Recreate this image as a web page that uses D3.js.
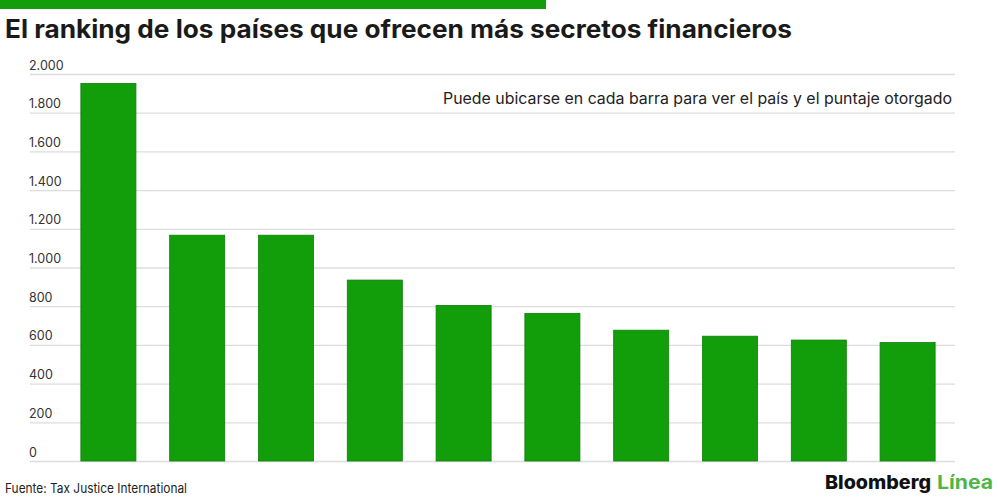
<!DOCTYPE html>
<html>
<head>
<meta charset="utf-8">
<script src="https://cdn.jsdelivr.net/npm/d3@7"></script>
<style>
  body { margin: 0; background: #fff; }
  svg { display: block; font-family: "Inter", "Liberation Sans", sans-serif; }
</style>
</head>
<body>
<script>
// Financial Secrecy Index, top 10 (puntaje)
const countries = [
  "Estados Unidos", "Suiza", "Singapur", "Hong Kong", "Luxemburgo",
  "Japón", "Alemania", "Emiratos Árabes Unidos", "Islas Vírgenes Británicas", "Guernsey"
];
const scores = [1951, 1167, 1167, 935, 804, 763, 676, 645, 625, 612];
const yTicks = [0, 200, 400, 600, 800, 1000, 1200, 1400, 1600, 1800, 2000];

const width = 1000, height = 500;
const green = "#129e0b";

const svg = d3
  .select("body")
  .append("svg")
  .attr("width", width)
  .attr("height", height);

// top stripe
svg.append("rect")
  .attr("x", 0).attr("y", 0)
  .attr("width", 546).attr("height", 9)
  .style("fill", green);

// title
svg.append("text")
  .attr("x", 5).attr("y", 38)
  .attr("textLength", 787).attr("lengthAdjust", "spacingAndGlyphs")
  .style("font-size", "25px").style("font-weight", "700").style("fill", "#1a1a1a")
  .text("El ranking de los países que ofrecen más secretos financieros");

const x = d3.scaleBand()
  .domain(countries)
  .range([64, 952])
  .paddingInner(0.38)
  .paddingOuter(0.19);

const y = d3.scaleLinear().domain([0, 2000]).range([461, 74]);

// grid + labels
const yAxis = d3.axisLeft(y)
  .tickValues(yTicks)
  .tickSize(-925)
  .tickFormat((d) => d3.format(",")(d).replace(/,/g, "."));

const gy = svg.append("g")
  .attr("transform", "translate(955, 0)")
  .call(yAxis);
gy.select(".domain").remove();
gy.selectAll(".tick line").style("stroke", "#dcdcdc").style("stroke-width", 1.3)
  .attr("x1", -925).attr("x2", 0);
gy.selectAll(".tick text")
  .attr("x", -926).attr("dy", -5)
  .style("text-anchor", "start")
  .style("font-family", "Inter, 'Liberation Sans', sans-serif")
  .style("font-size", "12.5px").style("fill", "#333");

// note
svg.append("text")
  .attr("x", 952).attr("y", 104)
  .attr("text-anchor", "end")
  .attr("textLength", 509).attr("lengthAdjust", "spacingAndGlyphs")
  .style("font-size", "15.5px").style("fill", "#222")
  .text("Puede ubicarse en cada barra para ver el país y el puntaje otorgado");

// bars
svg.append("g")
  .selectAll("rect")
  .data(countries)
  .enter()
  .append("rect")
  .attr("x", (d) => x(d))
  .attr("y", (d, i) => y(scores[i]))
  .attr("width", x.bandwidth())
  .attr("height", (d, i) => y(0) - y(scores[i]))
  .style("fill", green)
  .style("stroke", "#0c7f07")
  .style("stroke-width", 0.8)
  .append("title")
  .text((d, i) => `${d}: ${scores[i]}`);

// source
svg.append("text")
  .attr("x", 5).attr("y", 493)
  .attr("textLength", 182).attr("lengthAdjust", "spacingAndGlyphs")
  .style("font-size", "13px").style("fill", "#222")
  .text("Fuente: Tax Justice International");

// logo
svg.append("text")
  .attr("x", 825).attr("y", 489)
  .attr("textLength", 106).attr("lengthAdjust", "spacingAndGlyphs")
  .style("font-size", "19px").style("font-weight", "800").style("fill", "#111")
  .text("Bloomberg");
svg.append("text")
  .attr("x", 937).attr("y", 489)
  .attr("textLength", 56).attr("lengthAdjust", "spacingAndGlyphs")
  .style("font-size", "19px").style("font-weight", "700").style("fill", "#4cb748")
  .text("Línea");
</script>
</body>
</html>
